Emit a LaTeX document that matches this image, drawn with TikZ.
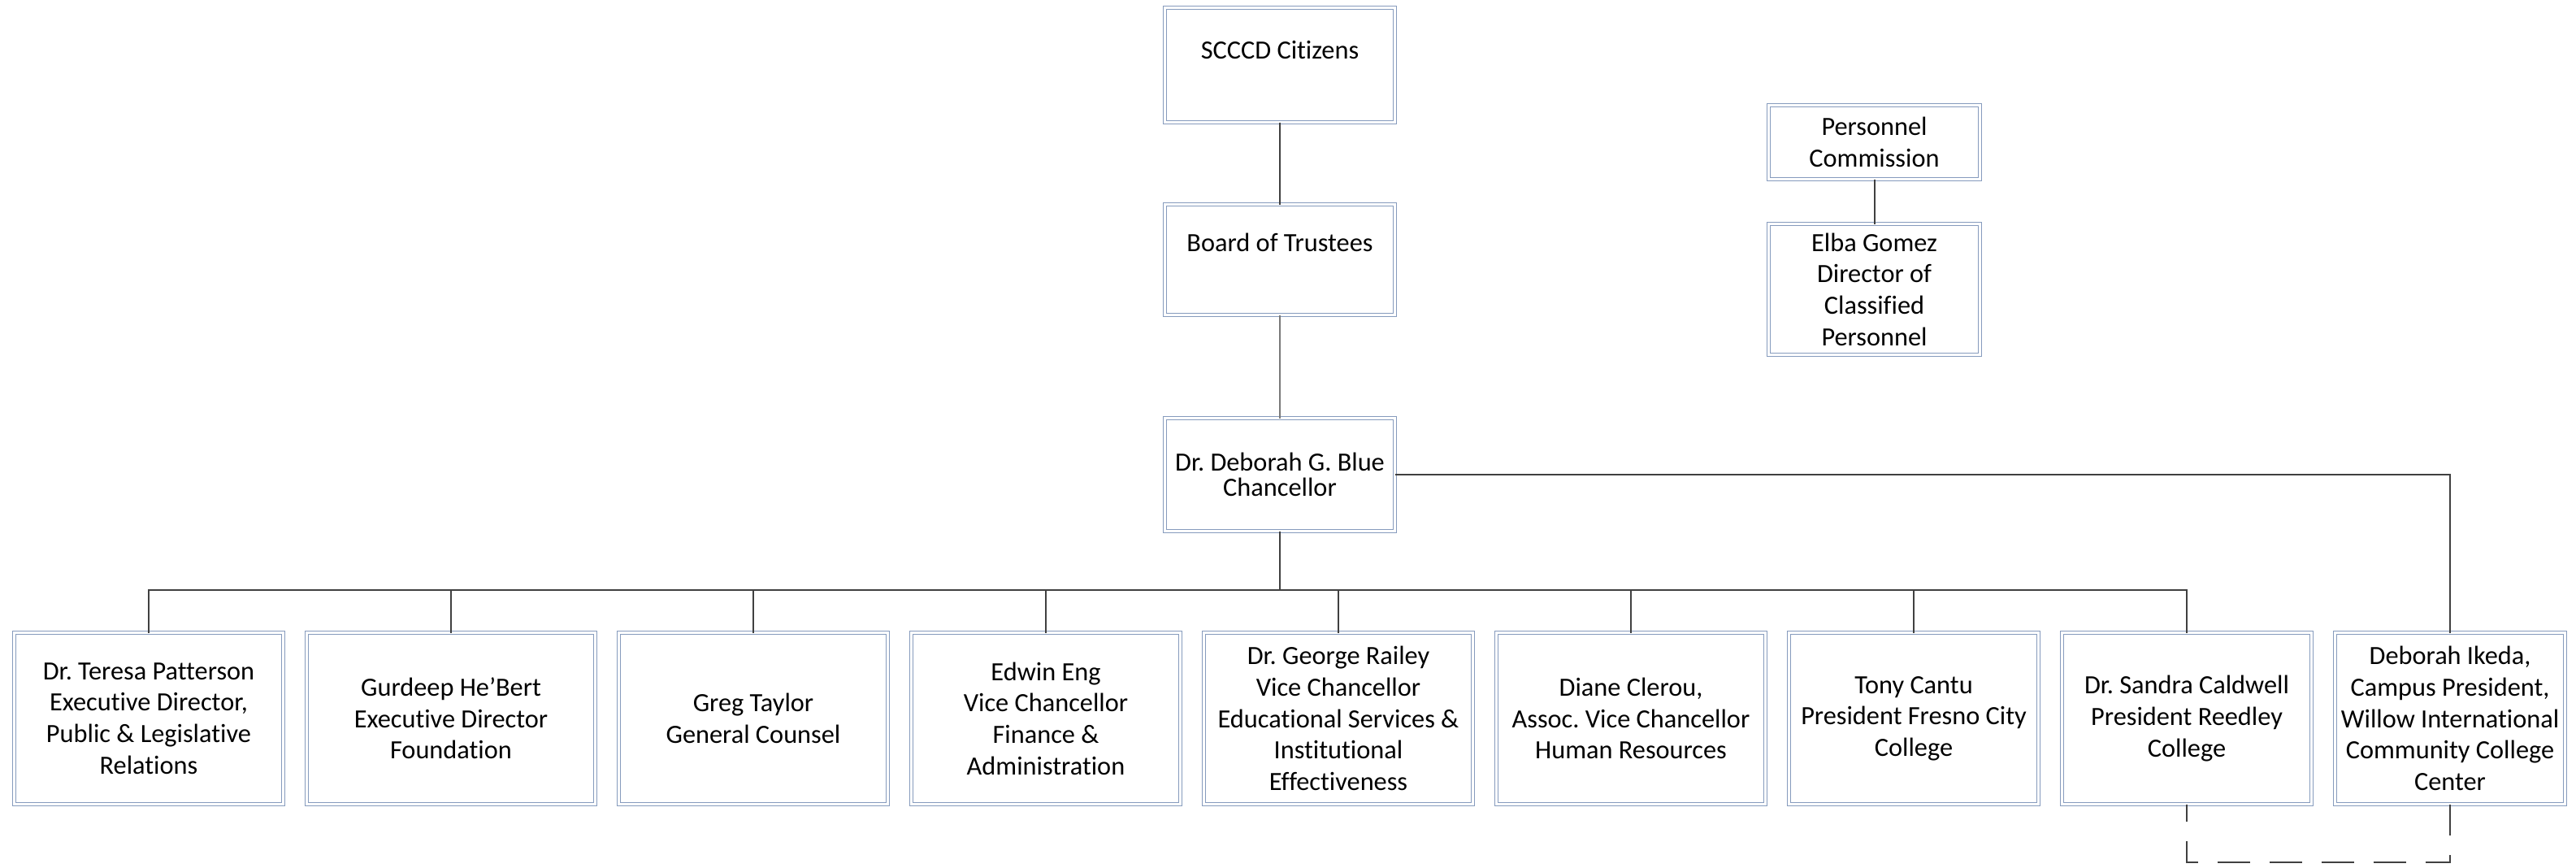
\documentclass[tikz,border=0pt]{standalone}
\usepackage{fontspec}
\setmainfont{Carlito}[Ligatures=NoCommon]
\usepackage{tikz}
\usetikzlibrary{positioning}
\frenchspacing

\definecolor{boxblue}{RGB}{134,155,189}
\definecolor{linegray}{RGB}{64,64,64}

\tikzset{
    box/.style={draw=boxblue, double=white, double distance=0.027cm, line width=0.016cm,
        fill=white, align=center, inner sep=0pt, outer sep=0pt, text=black,
        font=\fontsize{9.2}{11}\selectfont},
    conn/.style={draw=linegray, line width=0.02cm},
    dashconn/.style={conn, dash pattern=on 0.40cm off 0.24cm, dash phase=0.19cm},
}

\begin{document}
\begin{tikzpicture}
        \useasboundingbox (0,0) rectangle (31.70,-10.67);

        % top of the chart
        \node[box, minimum width=2.83cm, minimum height=1.39cm, font=\fontsize{9.2}{9}\selectfont] (chan) at (15.75,-5.84) {Dr. Deborah G. Blue\\Chancellor};
        \node[box, minimum width=2.83cm, text height=0.575cm, text depth=0.785cm, above=1.27cm of chan] (board) {Board of Trustees};
        \node[box, minimum width=2.83cm, text height=0.625cm, text depth=0.785cm, above=1.01cm of board] (cit) {SCCCD Citizens};

        \node[box, minimum width=2.60cm, minimum height=0.91cm] (pc) at (23.065,-1.75) {Personnel\\Commission};
        \node[box, minimum width=2.60cm, minimum height=1.61cm, below=0.55cm of pc] (dir) {Elba Gomez\\Director of\\Classified\\Personnel};

        % bottom row
        \node[box, minimum width=3.31cm, minimum height=2.11cm] (t1) at (1.83,-8.84) {Dr. Teresa Patterson\\Executive Director,\\Public \& Legislative\\Relations};
        \node[box, minimum width=3.55cm, minimum height=2.11cm, right=0.29cm of t1] (t2) {Gurdeep He'Bert\\Executive Director\\Foundation};
        \node[box, minimum width=3.31cm, minimum height=2.11cm, right=0.29cm of t2] (t3) {Greg Taylor\\General Counsel};
        \node[box, minimum width=3.31cm, minimum height=2.11cm, right=0.29cm of t3] (t4) {Edwin Eng\\Vice Chancellor\\Finance \&\\Administration};
        \node[box, minimum width=3.31cm, minimum height=2.11cm, right=0.29cm of t4] (t5) {Dr. George Railey\\Vice Chancellor\\Educational Services \&\\Institutional\\Effectiveness};
        \node[box, minimum width=3.31cm, minimum height=2.11cm, right=0.29cm of t5] (t6) {Diane Clerou,\\Assoc. Vice Chancellor\\Human Resources};
        \node[box, minimum width=3.07cm, minimum height=2.11cm, right=0.29cm of t6] (t7) {Tony Cantu\\President Fresno City\\College};
        \node[box, minimum width=3.07cm, minimum height=2.11cm, right=0.29cm of t7] (t8) {Dr. Sandra Caldwell\\President Reedley\\College};
        \node[box, minimum width=2.83cm, minimum height=2.11cm, right=0.29cm of t8] (t9) {Deborah Ikeda,\\Campus President,\\Willow International\\Community College\\Center};

        \coordinate (bus) at (chan |- 0,-7.26);
        \coordinate (loop) at (t9.south |- 0,-10.61);

        \draw[conn]
            (cit) -- (board)
            (chan) -- (bus)
            (chan) -| (t9)
            (pc) -- (dir)
            ;
        \draw[conn, draw=linegray!70, line width=0.014cm] (board) -- (chan);
        \foreach \n in {t1,t2,t3,t4,t5,t6,t7,t8}
            \draw[conn] (bus) -| (\n);
        \draw[dashconn] (t8.south) |- (loop) -- (t9.south);
    \end{tikzpicture}
\end{document}
